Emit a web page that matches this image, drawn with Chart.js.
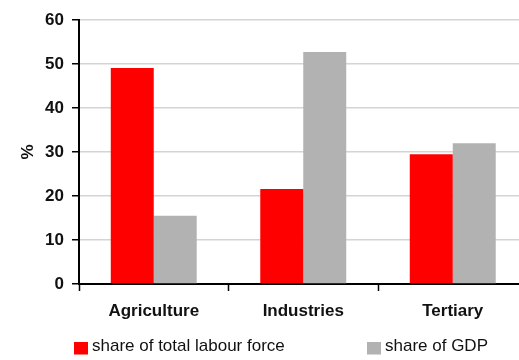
<!DOCTYPE html>
<html>
<head>
<meta charset="utf-8">
<script src="https://cdn.jsdelivr.net/npm/chart.js@4/dist/chart.umd.min.js"></script>
<style>
html,body{margin:0;padding:0;background:#fff;overflow:hidden;}
#wrap{position:relative;width:530px;height:360px;}
</style>
</head>
<body>
<div id="wrap"><canvas id="chart"></canvas></div>
<script>
/* ─── DATA ─────────────────────────────── */
const SECTORS = ['Agriculture','Industries','Tertiary'];
const LABOUR  = [49.1, 21.6, 29.5];
const GDP     = [15.5, 52.7, 32.0];
const Y_MIN = 0, Y_MAX = 60, Y_STEP = 10;

const SERIES_NAMES = ['share of total labour force','share of GDP'];
const COLORS = ['#ff0000','#b2b2b2'];

const FONT = '"Liberation Sans", Arial, sans-serif';
const INK  = '#111';

/* ─── LEGEND (bottom row, two fixed slots) ─ */
const legendSlots = [74, 367];
const bottomLegend = {
  id:'bottomLegend',
  afterDraw(chart){
    const ctx = chart.ctx;
    ctx.save();
    ctx.font = '17px ' + FONT;
    ctx.textBaseline = 'middle';
    ctx.textAlign = 'left';
    chart.data.datasets.forEach((ds,i)=>{
      const x = legendSlots[i];
      ctx.fillStyle = ds.backgroundColor;
      ctx.fillRect(x, 342, 14, 12.5);
      ctx.fillStyle = INK;
      ctx.fillText(ds.label, x + 18, 346.5);
    });
    ctx.restore();
  }
};

/* ─── CHART ────────────────────────────── */
new Chart(document.getElementById('chart'), {
  type:'bar',
  data:{
    labels: SECTORS,
    datasets:[
      {label:SERIES_NAMES[0], data:LABOUR, backgroundColor:COLORS[0]},
      {label:SERIES_NAMES[1], data:GDP,    backgroundColor:COLORS[1]}
    ]
  },
  options:{
    responsive:true, maintainAspectRatio:false, animation:false,
    layout:{padding:{top:20, right:2.5, left:0, bottom:30}},
    datasets:{bar:{categoryPercentage:0.575, barPercentage:1.0, borderWidth:0}},
    plugins:{legend:{display:false}, tooltip:{enabled:false}},
    scales:{
      x:{
        grid:{display:true, drawOnChartArea:false, offset:true, tickLength:7, tickColor:'#000', tickWidth:1.5},
        border:{color:'#000', width:2},
        ticks:{color:INK, padding:10, font:{size:17, weight:'bold', family:FONT}},
        afterFit: s=>{ s.height = 46; }
      },
      y:{
        min:Y_MIN, max:Y_MAX,
        grid:{color:'#d4d4d4', lineWidth:1.5, tickLength:7, tickColor:'#000', tickWidth:1.5},
        border:{color:'#000', width:2},
        ticks:{stepSize:Y_STEP, color:INK, padding:8, font:{size:17, weight:'bold', family:FONT}},
        title:{display:true, text:'%', color:INK, padding:{top:18, bottom:0}, font:{size:17, weight:'bold', family:FONT}},
        afterFit: s=>{ s.width = 79; }
      }
    }
  },
  plugins:[bottomLegend]
});
</script>
</body>
</html>
